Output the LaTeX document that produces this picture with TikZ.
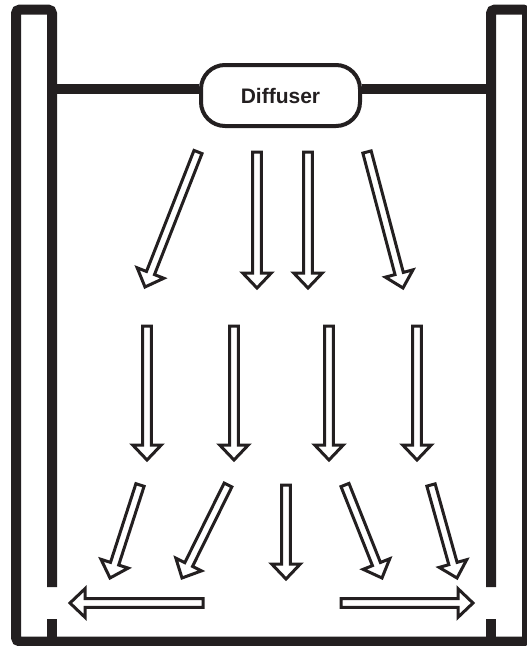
\documentclass[tikz,border=0pt]{standalone}
\usepackage{fontspec}
\setmainfont{Liberation Sans}
\usetikzlibrary{calc}
\definecolor{ink}{HTML}{231F20}
\tikzset{
  wall/.style={draw=ink, line width=10pt, rounded corners=4pt},
  bar/.style={draw=ink, line width=10pt},
  flow/.style={draw=ink, line width=3pt, fill=white, line join=miter},
  diffuser/.style={draw=ink, line width=4pt, rounded corners=24pt, fill=white,
    minimum width=159pt, minimum height=61pt, inner sep=0pt,
    font=\bfseries\fontsize{21}{21}\selectfont, text=ink}
}
% hollow flow arrow from tail #1 to tip #2
\newcommand{\flowarrow}[2]{%
  \draw[flow] let \p1=($#2-#1$), \n1={atan2(\y1,\x1)}, \n2={veclen(\x1,\y1)} in
    [shift={#1}, rotate=\n1] (0,-4.3) -- (\n2-15,-4.3) -- (\n2-15,-14.3) -- (\n2,0)
    -- (\n2-15,14.3) -- (\n2-15,4.3) -- (0,4.3) -- cycle;}
\begin{document}
\begin{tikzpicture}[x=1pt, y=-1pt]
    \useasboundingbox (0,0) rectangle (527,646);
    % tank
    \draw[wall] (52,587) -- (52,9.5) -- (16,9.5) -- (16,641.5) -- (527,641.5) -- (527,9.5) -- (491,9.5) -- (491,587);
    \draw[wall] (52,619) -- (52,641.5);
    \draw[wall] (491,619) -- (491,641.5);
    % diffuser and its bar
    \node[diffuser] (diff) at (280.5,95.5) {Diffuser};
    \coordinate (lbar) at (52,88.5);
    \coordinate (rbar) at (491,88.5);
    \draw[bar] (lbar) -- (lbar -| diff.west);
    \draw[bar] (rbar) -- (rbar -| diff.east);
    % first row
    \flowarrow{(198,152)}{(145,287)}
    \flowarrow{(257,152)}{(257,288)}
    \flowarrow{(308,152)}{(308,288)}
    \flowarrow{(367,152)}{(403,288)}
    % second row
    \flowarrow{(147,326)}{(147,460)}
    \flowarrow{(234,326)}{(234,460)}
    \flowarrow{(329,326)}{(329,460)}
    \flowarrow{(417,326)}{(417,460)}
    % third row
    \flowarrow{(140,485)}{(110,578)}
    \flowarrow{(228,485)}{(182,578)}
    \flowarrow{(286,485)}{(286,579)}
    \flowarrow{(345,485)}{(382,578)}
    \flowarrow{(431,485)}{(457,578)}
    % out through the walls
    \flowarrow{(203,603)}{(70,603)}
    \flowarrow{(341,603)}{(473,603)}
\end{tikzpicture}
\end{document}
